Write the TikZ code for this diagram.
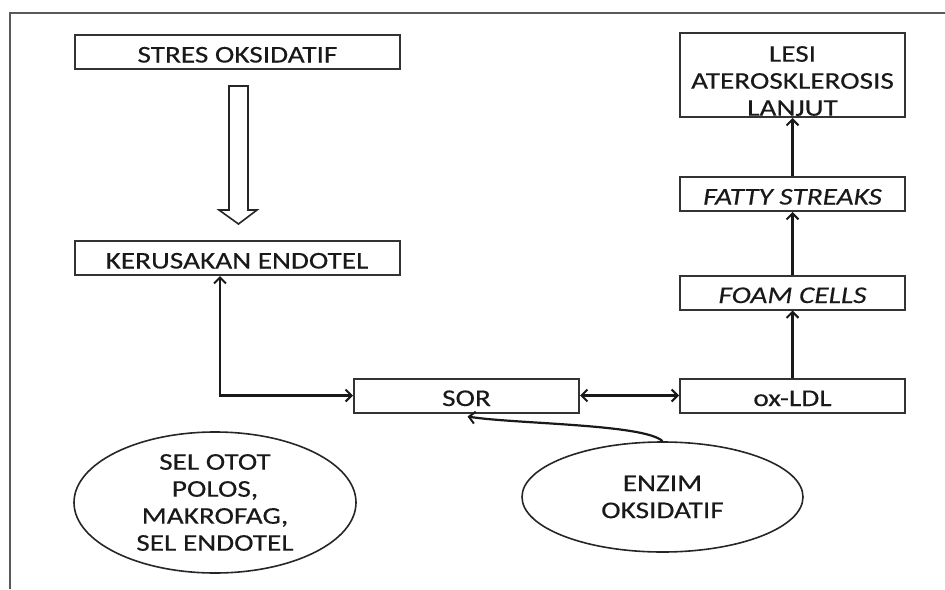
\documentclass[tikz,border=0pt]{standalone}
\usepackage{fontspec}
\setmainfont{Carlito}[FakeStretch=1.22,FakeBold=0.3]
\usetikzlibrary{arrows.meta,shapes.geometric,calc}
\begin{document}
\begin{tikzpicture}[x=1pt,y=-1pt,
  every node/.style={font=\fontsize{24}{27}\selectfont, text=black!90},
  basebox/.style={draw=black!80, line width=2pt, minimum width=225pt, minimum height=34pt, inner sep=0pt, align=center},
  box/.style={basebox, text height=21pt, text depth=0pt},
  wbox/.style={box, minimum width=325pt},
  txt/.style={inner sep=0pt, align=center},
  oval/.style={ellipse, draw=black!85, line width=1.6pt, inner sep=0pt, align=center},
  tip/.style={arrows={-Straight Barb[length=6pt,width=12pt,line width=2pt]}},
  conn/.style={line width=2.6pt, draw=black!90, tip},
  conn2/.style={line width=2.6pt, draw=black!90, arrows={Straight Barb[length=6pt,width=12pt,line width=2pt]-Straight Barb[length=6pt,width=12pt,line width=2pt]}}
]
\useasboundingbox (0,0) rectangle (945,589);
% frame
\draw[black!65, line width=2.4pt] (10,589) -- (10,13) -- (945,13);

\node[wbox] (stres) at (237.5,52) {STRES OKSIDATIF};
\node[wbox] (ker) at (237,258) {KERUSAKAN ENDOTEL};
\node[basebox, minimum height=84pt] (lesi) at (792.5,75) {};
\node[txt] (lesitxt) at ([yshift=-6pt]lesi.center) {LESI\\ATEROSKLEROSIS\\LANJUT};
\node[box] (fatty) at (792.5,194) {\itshape FATTY STREAKS};
\node[box] (foam) at (792.5,292.5) {\itshape FOAM CELLS};
\node[box] (ox) at (792.5,395.5) {ox-LDL};
\node[box] (sor) at (466.5,395.5) {SOR};
\node[oval, minimum width=282pt, minimum height=141pt] (sel) at (215,502.5) {SEL OTOT\\POLOS,\\MAKROFAG,\\SEL ENDOTEL};
\node[oval, minimum width=281pt, minimum height=110pt] (enz) at (662.5,497) {ENZIM\\OKSIDATIF};

% hollow block arrow
\draw[black!85, line width=1.6pt, fill=white]
  (229,86) -- (248,86) -- (248,210) -- (257,210) -- (238.5,224) -- (219,210) -- (229,210) -- cycle;

% connectors
\draw[conn2] ($(ker.south)+(-17,0)$) |- (sor.west);
\draw[conn2] (sor.east) -- (ox.west);
\draw[conn] (ox.north) -- (foam.south);
\draw[conn] (foam.north) -- (fatty.south);
\draw[conn] (fatty.north) -- (lesi.south);
\draw[line width=2.2pt, draw=black!90, tip]
  (enz.north) .. controls (645,424) and (515,424) .. ($(sor.south)+(1,3)$);
\end{tikzpicture}
\end{document}
